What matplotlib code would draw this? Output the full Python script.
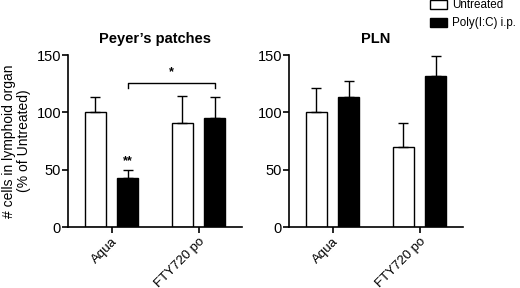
import matplotlib
matplotlib.use("Agg")
import matplotlib.pyplot as plt
import numpy as np

plt.rcParams['font.family'] = ['Liberation Sans', 'DejaVu Sans']

groups = ['Aqua', 'FTY720 po']
series = ['Untreated', 'Poly(I:C) i.p.']

pp_untreated = [100, 91]
pp_untreated_err = [13, 23]
pp_polyic = [43, 95]
pp_polyic_err = [7, 18]

pln_untreated = [100, 70]
pln_untreated_err = [21, 21]
pln_polyic = [113, 132]
pln_polyic_err = [14, 17]

fig = plt.figure(figsize=(5.2, 2.88), dpi=100)
ax1 = fig.add_axes([0.1308, 0.2118, 0.3346, 0.597])
ax2 = fig.add_axes([0.5558, 0.2118, 0.3346, 0.597])

x = np.arange(len(groups))
w = 0.25
off = 0.185


def draw(ax, unt, unt_err, pol, pol_err, title):
    ax.bar(x - off, unt, w, color='white', edgecolor='black', linewidth=1.0,
           yerr=[np.zeros(len(unt)), unt_err], capsize=3.5,
           error_kw=dict(elinewidth=1.0, capthick=1.0, ecolor='black'),
           label=series[0], zorder=2)
    ax.bar(x + off, pol, w, color='black', edgecolor='black', linewidth=1.0,
           yerr=[np.zeros(len(pol)), pol_err], capsize=3.5,
           error_kw=dict(elinewidth=1.0, capthick=1.0, ecolor='black'),
           label=series[1], zorder=2)
    ax.set_xlim(-0.5, 1.5)
    ax.set_ylim(0, 150)
    ax.set_yticks([0, 50, 100, 150])
    ax.set_xticks(x)
    ax.set_xticklabels(groups, rotation=45, ha='right', rotation_mode='anchor',
                       fontsize=9.5)
    ax.tick_params(axis='y', labelsize=10.5, length=4, width=1.2, pad=1)
    ax.tick_params(axis='x', length=4, width=1.2, pad=2)
    for s in ['top', 'right']:
        ax.spines[s].set_visible(False)
    for s in ['left', 'bottom']:
        ax.spines[s].set_linewidth(1.2)
    ax.set_title(title, fontsize=10.5, fontweight='bold', pad=9)


draw(ax1, pp_untreated, pp_untreated_err, pp_polyic, pp_polyic_err, "Peyer\u2019s patches")
draw(ax2, pln_untreated, pln_untreated_err, pln_polyic, pln_polyic_err, 'PLN')

ax1.set_ylabel('# cells in lymphoid organ\n(% of Untreated)', fontsize=10,
               labelpad=4, linespacing=1.05)

# significance marks
ax1.text(0 + off, pp_polyic[0] + pp_polyic_err[0] + 2, '**', ha='center',
         va='bottom', fontsize=9, fontweight='bold')
y_br = 126
ax1.plot([0 + off, 0 + off, 1 + off, 1 + off], [y_br - 5, y_br, y_br, y_br - 5],
         color='black', linewidth=1.0, clip_on=False)
ax1.text((0 + off + 1 + off) / 2, y_br + 4, '*', ha='center', va='bottom',
         fontsize=9, fontweight='bold')

handles, labels = ax1.get_legend_handles_labels()
leg = fig.legend(handles, labels, loc='upper left', bbox_to_anchor=(0.818, 1.018),
                 frameon=False, fontsize=8.4, handlelength=1.45, handleheight=0.8,
                 handletextpad=0.45, labelspacing=0.5, borderaxespad=0)

fig.savefig('out.png', dpi=100)
